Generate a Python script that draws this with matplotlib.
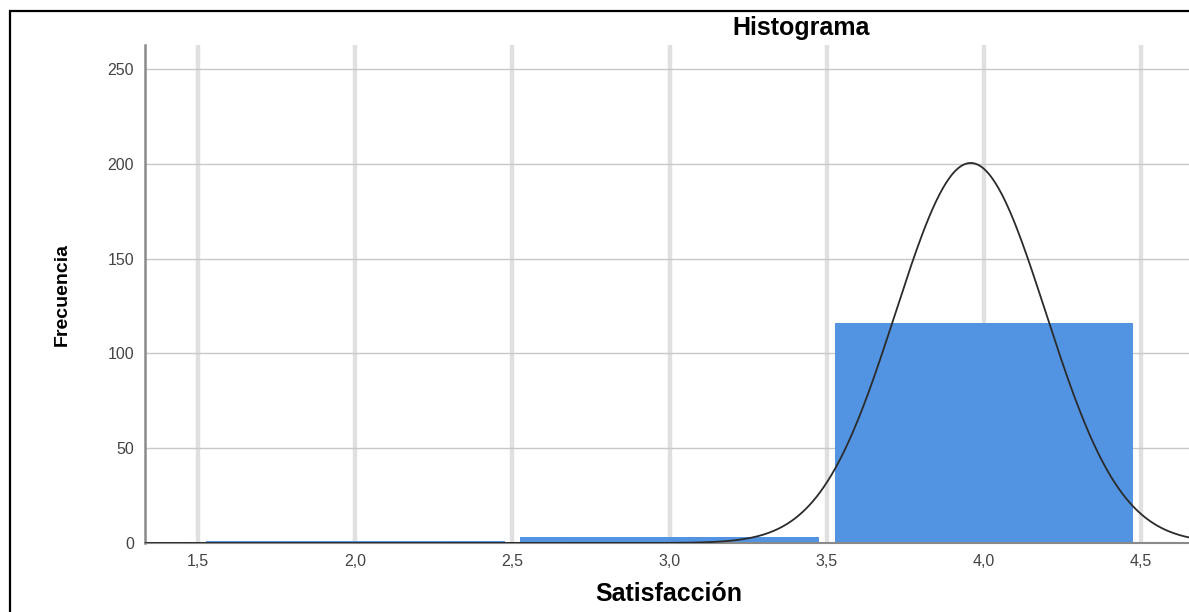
import numpy as np
import matplotlib
matplotlib.use("Agg")
import matplotlib.pyplot as plt
from matplotlib.patches import Rectangle

plt.rcParams['font.family'] = ['Liberation Sans', 'DejaVu Sans']

centros = [2.0, 3.0, 4.0]
frecuencias = [1, 3, 116]
ancho_clase = 1.0
x_ticks = [1.5, 2.0, 2.5, 3.0, 3.5, 4.0, 4.5]
x_tick_labels = ["1,5", "2,0", "2,5", "3,0", "3,5", "4,0", "4,5"]
y_ticks = [0, 50, 100, 150, 200, 250]

# curva normal ajustada a los datos (como SPSS)
c = np.array(centros)
f = np.array(frecuencias)
n = f.sum()
media = (c * f).sum() / n
desv = np.sqrt((f * (c - media) ** 2).sum() / (n - 1))

fig = plt.figure(figsize=(11.89, 6.12), dpi=100)
ax = fig.add_axes([145 / 1189, 1 - 543 / 612, 1 - 145 / 1189, (543 - 45) / 612])

ax.bar(centros, frecuencias, width=ancho_clase * 0.95, color="#5294e2", zorder=2)

xs = np.linspace(1.3, 4.7, 600)
ys = n * ancho_clase / (desv * np.sqrt(2 * np.pi)) * np.exp(-0.5 * ((xs - media) / desv) ** 2)
ax.plot(xs, ys, color="#2b2b2b", lw=1.3, zorder=3)

ax.set_xlim(1.331, 4.653)
ax.set_ylim(0, 262.6)
ax.set_xticks(x_ticks)
ax.set_xticklabels(x_tick_labels)
ax.set_yticks(y_ticks)
ax.tick_params(length=0, labelsize=11.5, colors="#444444")
ax.tick_params(axis="x", pad=8)
ax.tick_params(axis="y", pad=8)

ax.grid(axis="x", color="#e0e0e0", lw=3.2, zorder=0)
ax.grid(axis="y", color="#c8c8c8", lw=1.0, zorder=0)
ax.set_axisbelow(True)

for s in ["top", "right"]:
    ax.spines[s].set_visible(False)
ax.spines["left"].set_color("#8a8a8a")
ax.spines["left"].set_linewidth(1.8)
ax.spines["bottom"].set_color("#8a8a8a")
ax.spines["bottom"].set_linewidth(1.5)

fig.text(801 / 1189, 1 - 28 / 612, "Histograma", ha="center", va="center",
         fontsize=18, fontweight="bold")
fig.text(669 / 1189, 1 - 594 / 612, "Satisfacción", ha="center", va="center",
         fontsize=18, fontweight="bold")
fig.text(62 / 1189, 1 - 294 / 612, "Frecuencia", ha="center", va="center",
         rotation=90, fontsize=14, fontweight="bold")

# marco exterior
fig.patches.append(Rectangle((10 / 1189, -0.1), 1.2, 1.1 - 11 / 612,
                             transform=fig.transFigure, fill=False,
                             edgecolor="black", lw=1.6))

fig.savefig("out.png", dpi=100)
